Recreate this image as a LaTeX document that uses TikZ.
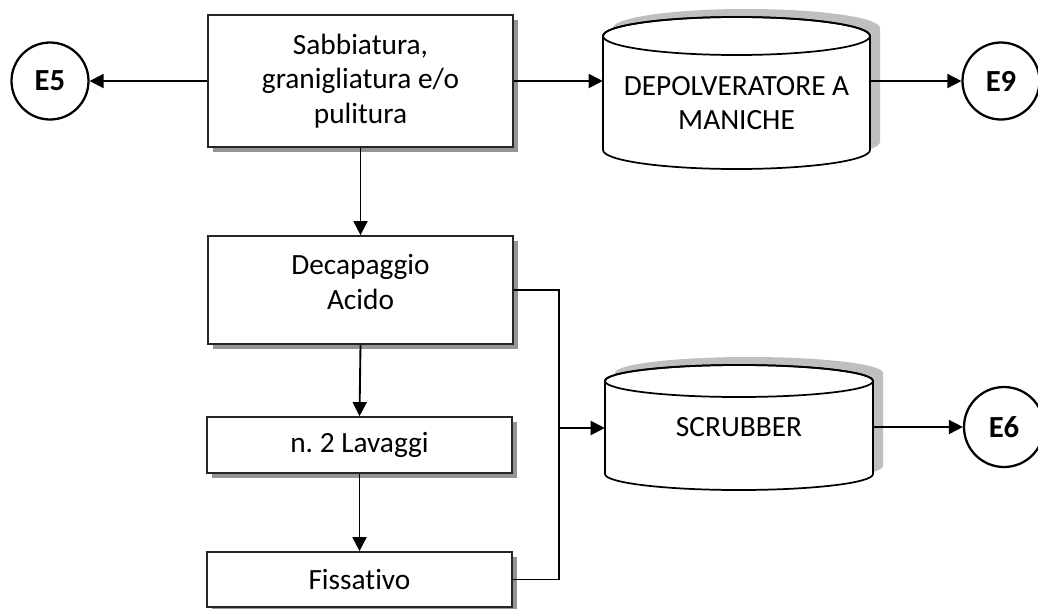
\documentclass[tikz,border=0pt]{standalone}
\usepackage{fontspec}
\setmainfont{Carlito}[Ligatures=NoCommon]
\usetikzlibrary{arrows.meta,shadows}
\frenchspacing
\begin{document}
\begin{tikzpicture}[x=0.75pt,y=-0.75pt,
  every node/.style={font=\fontsize{22pt}{26pt}\selectfont},
  proc/.style={draw=black!85, line width=1.3pt, fill=white, align=center,
    inner sep=0pt, minimum width=228.75pt,
    drop shadow={shadow xshift=3.6pt, shadow yshift=-3.6pt, fill=black!42, opacity=1}},
  emis/.style={circle, draw=black, line width=1.7pt, fill=white, inner sep=0pt,
    font=\fontsize{23pt}{27pt}\selectfont\bfseries},
  tank/.style={draw=none, inner sep=0pt, align=center},
  flow/.style={draw=black, line width=1.4pt, -{Triangle[length=10.5pt,width=10.5pt]}},
  link/.style={draw=black, line width=1.4pt},
  tankline/.style={draw=black, line width=1.3pt, fill=white},
  tankshade/.style={fill=black!25, draw=none}]

\useasboundingbox (0,0) rectangle (1038,608);

% ---- tank outlines (shadow first, then the body and the lid) ----
% bag filter
\fill[tankshade, shift={(10,-8)}]
  (603,36) -- (603,150) arc[start angle=180,end angle=360,x radius=100.125pt,y radius=14.25pt]
  -- (870,36) arc[start angle=0,end angle=180,x radius=100.125pt,y radius=14.25pt] -- cycle;
\path[tankline]
  (603,36) -- (603,150) arc[start angle=180,end angle=360,x radius=100.125pt,y radius=14.25pt]
  -- (870,36) arc[start angle=0,end angle=180,x radius=100.125pt,y radius=14.25pt] -- cycle;
\draw[black, line width=1.3pt] (736.5,36) ellipse[x radius=100.125pt, y radius=14.25pt];
% scrubber
\fill[tankshade, shift={(10,-8)}]
  (605,381) -- (605,474) arc[start angle=180,end angle=360,x radius=100.5pt,y radius=12pt]
  -- (873,381) arc[start angle=0,end angle=180,x radius=100.5pt,y radius=12pt] -- cycle;
\path[tankline]
  (605,381) -- (605,474) arc[start angle=180,end angle=360,x radius=100.5pt,y radius=12pt]
  -- (873,381) arc[start angle=0,end angle=180,x radius=100.5pt,y radius=12pt] -- cycle;
\draw[black, line width=1.3pt] (739,381) ellipse[x radius=100.5pt, y radius=12pt];

% ---- tank nodes ----
\node[tank, minimum width=200.25pt, minimum height=114pt] (dep) at (736.5,93) {};
\node[align=center] (deptext) at (736.5,103) {DEPOLVERATORE A\\MANICHE};
\node[tank, minimum width=201pt, minimum height=93.75pt] (scr) at (739,427.5) {};
\node (scrtext) at (739,427) {SCRUBBER};

% ---- process steps ----
\node[proc, minimum height=99pt] (sab) at (360.5,81) {Sabbiatura,\\granigliatura e/o\\pulitura};
\node[proc, minimum height=81pt] (dec) at (360.5,290) {};
\node[align=center] (dectext) at (360.5,282) {Decapaggio\\Acido};
\node[proc, minimum height=42pt] (lav) at (359.5,445) {n. 2 Lavaggi};
\node[proc, minimum height=41.25pt] (fis) at (359.5,579.5) {Fissativo};

% ---- emission points ----
\node[emis, minimum size=57.75pt] (e5) at (50,81) {E5};
\node[emis, minimum size=57.75pt] (e9) at (1001,81) {E9};
\node[emis, minimum size=60pt] (e6) at (1004,427) {E6};

% ---- connectors ----
\draw[flow] (sab.west) -- (e5);
\draw[flow] (sab.east) -- (dep.west |- sab.east);
\draw[flow] (dep.east |- e9) -- (e9);
\draw[flow] (sab.south) -- (dec.north);
\draw[flow] (dec.south) -- (lav.north);
\draw[flow] (lav.south) -- (fis.north);

\coordinate (bus) at (559,428);
\draw[link] (dec.east) -| (bus) |- (fis.east);
\draw[flow] (bus) -- (scr.west |- bus);
\draw[flow] (scr.east |- e6) -- (e6);

\end{tikzpicture}
\end{document}
